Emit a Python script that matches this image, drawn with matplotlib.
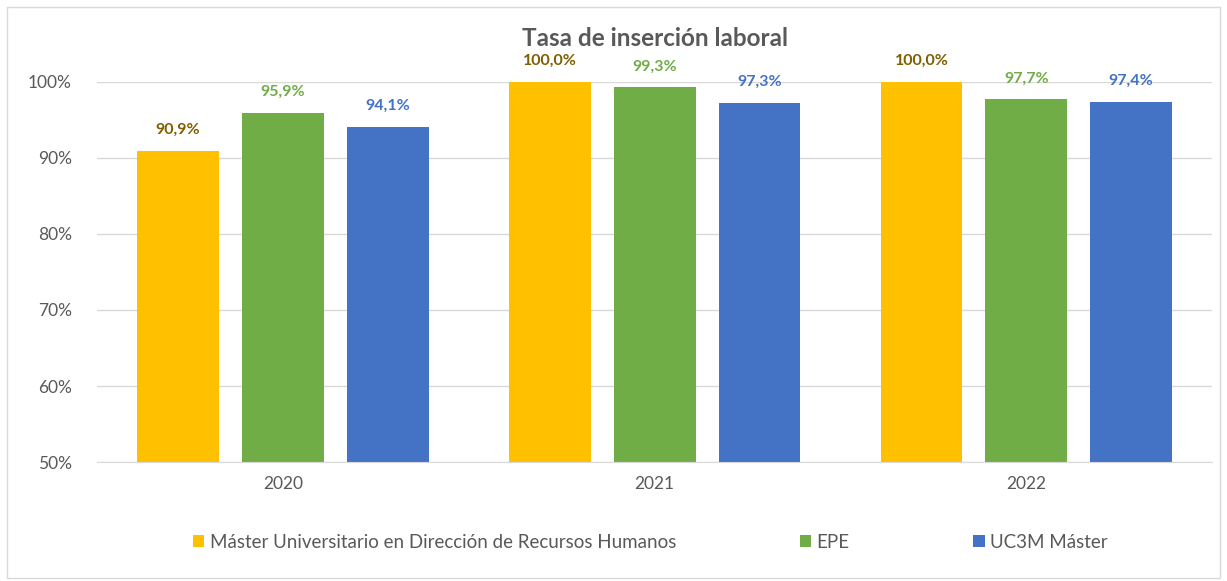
import matplotlib.pyplot as plt
import matplotlib.patches as mpatches
import numpy as np

plt.rcParams['font.family'] = ['Lato', 'DejaVu Sans']

# datos
years = ['2020', '2021', '2022']
series = ['Máster Universitario en Dirección de Recursos Humanos', 'EPE', 'UC3M Máster']
master = [90.9, 100.0, 100.0]
epe = [95.9, 99.3, 97.7]
uc3m = [94.1, 97.3, 97.4]
yticks = [50, 60, 70, 80, 90, 100]

bar_colors = ['#FFC000', '#70AD47', '#4472C4']
label_colors = ['#7F6000', '#70AD47', '#4472C4']

fig = plt.figure(figsize=(12.27, 5.81), dpi=100)
ax = fig.add_axes([0.079, 0.2048, 0.909, 0.6541])

x = np.arange(len(years))
offsets = [-0.282, 0, 0.282]
for vals, off, c, lc, name in zip([master, epe, uc3m], offsets, bar_colors, label_colors, series):
    bars = ax.bar(x + off, vals, width=0.22, color=c, label=name, zorder=2)
    for b, v in zip(bars, vals):
        ax.annotate(f'{v:.1f}%'.replace('.', ','), (b.get_x() + b.get_width() / 2, v),
                    xytext=(0, 10), textcoords='offset points', ha='center', va='bottom',
                    fontsize=11.5, fontweight='bold', color=lc, annotation_clip=False)

ax.set_xlim(-0.5, 2.5)
ax.set_ylim(50, 100)
ax.set_xticks(x)
ax.set_xticklabels(years)
ax.set_yticks(yticks)
ax.set_yticklabels([f'{t}%' for t in yticks])
ax.tick_params(length=0, labelsize=12.5, colors='#595959', pad=10)
ax.tick_params(axis='y', pad=18)
ax.grid(axis='y', color='#D9D9D9', linewidth=1, zorder=0)
for s in ['top', 'right', 'left']:
    ax.spines[s].set_visible(False)
ax.spines['bottom'].set_color('#D9D9D9')

ax.set_title('Tasa de inserción laboral', fontsize=17.5, fontweight='bold', color='#595959', pad=26)

fig.legend(loc='center', bbox_to_anchor=(0.530, 0.067), ncol=3, frameon=False,
           fontsize=13.5, handlelength=0.6, handleheight=0.6, handletextpad=0.3,
           columnspacing=6.6, labelcolor='#595959')

fig.patches.append(mpatches.Rectangle((0.006, 0.005), 0.988, 0.983, transform=fig.transFigure,
                                      fill=False, edgecolor='#D9D9D9', linewidth=1))

fig.savefig('out.png', dpi=100)
